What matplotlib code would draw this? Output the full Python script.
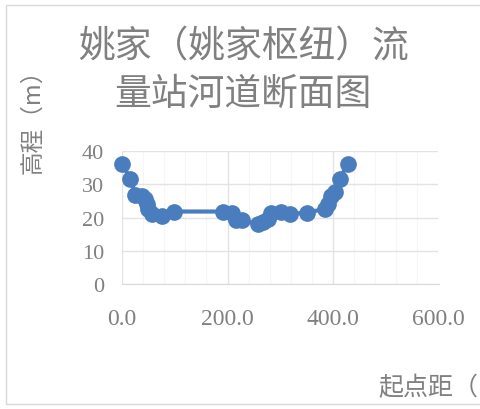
import matplotlib
matplotlib.use("Agg")
import matplotlib.pyplot as plt
from matplotlib.patches import Rectangle
from matplotlib.ticker import MultipleLocator

# 起点距 (m) and 高程 (m)
distance = [0, 16, 25, 38, 44, 47, 50, 57, 76, 98, 192, 208, 217, 227,
            258, 268, 277, 283, 302, 318, 350, 384, 391, 397, 403, 413, 428]
elevation = [36.2, 31.7, 26.8, 26.4, 25.6, 24.1, 22.6, 21.1, 20.6, 21.8,
             21.8, 21.4, 19.1, 19.1, 18.1, 18.6, 19.6, 21.4, 21.6, 21.1,
             21.4, 22.6, 24.1, 26.6, 27.8, 31.7, 36.2]

title_lines = ["姚家（姚家枢纽）流", "量站河道断面图"]
y_label = "高程（m）"
x_label = "起点距（m）"

W, H = 481, 410
fig = plt.figure(figsize=(W / 100, H / 100), dpi=100)
cjk = ["Noto Sans CJK SC", "DejaVu Sans"]
grey = "#808080"
blue = "#4a7dbe"

# light frame around the chart area
fig.patches.append(Rectangle((6 / W, 5 / H), 1.2, 399 / H, transform=fig.transFigure,
                             fill=False, edgecolor="#d9d9d9", linewidth=1))

ax = fig.add_axes([122 / W, 125 / H, 316.5 / W, 133 / H])
ax.plot(distance, elevation, color=blue, linewidth=3, marker="o",
        markersize=11, markerfacecolor=blue, markeredgecolor=blue, clip_on=False)

ax.set_xlim(0, 600)
ax.set_ylim(0, 40)
ax.xaxis.set_major_locator(MultipleLocator(200))
ax.xaxis.set_minor_locator(MultipleLocator(40))
ax.yaxis.set_major_locator(MultipleLocator(10))
ax.grid(True, which="major", color="#e3e3e3", linewidth=1)
ax.grid(True, which="minor", axis="x", color="#f6f6f6", linewidth=0.8)
ax.set_axisbelow(True)

for side in ["top", "right", "left"]:
    ax.spines[side].set_visible(False)
ax.spines["bottom"].set_color("#d9d9d9")
ax.tick_params(which="both", length=0)
ax.tick_params(axis="x", pad=17)
ax.tick_params(axis="y", pad=13)
ax.set_xticks([0, 200, 400, 600])
ax.set_xticklabels(["%.1f" % v for v in [0, 200, 400, 600]])
for lbl in ax.get_xticklabels() + ax.get_yticklabels():
    lbl.set_fontfamily("Liberation Serif")
    lbl.set_fontsize(16)
    lbl.set_color(grey)
for lbl in ax.get_xticklabels():
    lbl.set_fontsize(17)

fig.text(244 / W, 1 - 47 / H, title_lines[0], family=cjk, fontsize=26.5,
         color=grey, ha="center", va="center")
fig.text(243 / W, 1 - 94 / H, title_lines[1], family=cjk, fontsize=26.5,
         color=grey, ha="center", va="center")
fig.text(33 / W, 1 - 116 / H, y_label, family=cjk, fontsize=17, color=grey,
         rotation=90, ha="center", va="center")
fig.text(378 / W, 1 - 388 / H, x_label, family=cjk, fontsize=18, color=grey,
         ha="left", va="center")

fig.savefig("out.png", dpi=100)
